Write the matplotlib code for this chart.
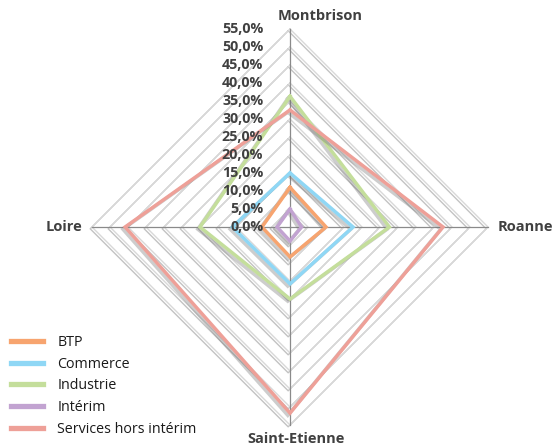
import numpy as np
import matplotlib
matplotlib.use("Agg")
import matplotlib.pyplot as plt
import matplotlib.patheffects as pe

# Données (part en %)
axes_labels = ["Montbrison", "Roanne", "Saint-Etienne", "Loire"]
series = ["BTP", "Commerce", "Industrie", "Intérim", "Services hors intérim"]
btp = [11.0, 10.0, 8.3, 7.8]
commerce = [15.0, 17.5, 15.8, 16.0]
industrie = [36.3, 27.6, 20.0, 25.0]
interim = [5.0, 3.2, 3.9, 3.6]
services = [32.5, 42.5, 51.7, 45.8]
ticks = [0, 5, 10, 15, 20, 25, 30, 35, 40, 45, 50, 55]

couleurs = ["#F7A46F", "#8FD7F5", "#C4DE9B", "#C2A3D1", "#EEA098"]
valeurs = [btp, commerce, industrie, interim, services]

angles = np.deg2rad([90, 0, -90, 180])
cx, cy = np.cos(angles), np.sin(angles)

W, H = 556, 448
fig = plt.figure(figsize=(W / 100, H / 100), dpi=100)
ax = fig.add_axes([0, 0, 1, 1])
ppu = 198 / 55  # pixels par %
ax.set_xlim(-290 / ppu, (W - 290) / ppu)
ax.set_ylim(-(H - 227) / ppu, 227 / ppu)
ax.axis("off")

ombre_grille = [pe.SimpleLineShadow(offset=(-1.3, -1.3), shadow_color="#7a7a7a", alpha=0.45),
                pe.Normal()]
for t in ticks[1:]:
    xs = np.append(t * cx, t * cx[0])
    ys = np.append(t * cy, t * cy[0])
    ax.plot(xs, ys, color="#d8d8d8", lw=1.0, path_effects=ombre_grille, zorder=1)

for a in range(4):
    ax.plot([0, ticks[-1] * cx[a]], [0, ticks[-1] * cy[a]], color="#8a8a8a", lw=0.9, zorder=2)

ombre = [pe.SimpleLineShadow(offset=(-1.6, -1.6), shadow_color="#707070", alpha=0.35),
         pe.Normal()]
for nom, v, c in zip(series, valeurs, couleurs):
    v = np.array(v)
    xs = np.append(v * cx, v[0] * cx[0])
    ys = np.append(v * cy, v[0] * cy[0])
    ax.plot(xs, ys, color=c, lw=2.5, label=nom, path_effects=ombre,
            solid_joinstyle="miter", zorder=3)

txt = "#404040"
for t in ticks:
    ax.text(-7.4, t, f"{t:.1f}%".replace(".", ","), ha="right", va="center",
            fontsize=10.3, fontweight="bold", color=txt, family="Open Sans", zorder=4)

lab = dict(fontsize=10.5, fontweight="bold", color=txt, family="Open Sans")
ax.text(8.3, 58.6, axes_labels[0], ha="center", va="center", **lab)
ax.text(57.6, 0, axes_labels[1], ha="left", va="center", **lab)
ax.text(1.7, -59.0, axes_labels[2], ha="center", va="center", **lab)
ax.text(-57.6, 0, axes_labels[3], ha="right", va="center", **lab)

leg = ax.legend(loc="lower left", bbox_to_anchor=(0.0, 0.0), frameon=False,
                prop={"family": "Open Sans", "size": 10.3}, handlelength=2.2,
                handletextpad=1.0, labelspacing=0.46, borderaxespad=0.4)
for h in leg.get_lines():
    h.set_linewidth(3.8)
    h.set_path_effects([])
for t in leg.get_texts():
    t.set_color("#1a1a1a")

fig.savefig("out.png", dpi=100)
